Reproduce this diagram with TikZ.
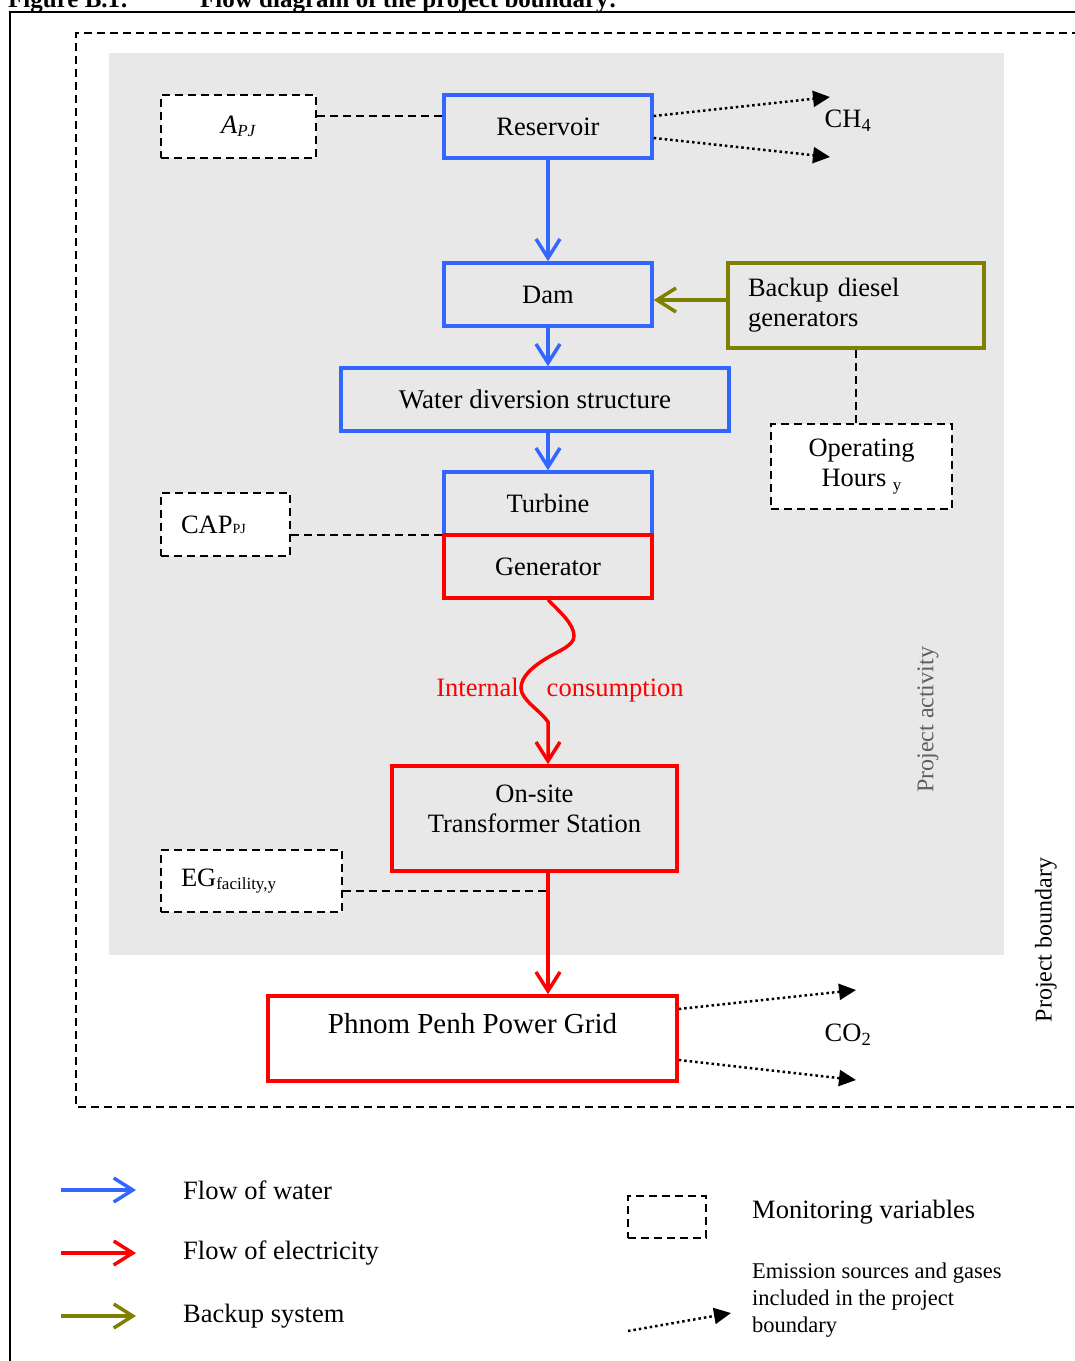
\documentclass[tikz,border=0pt]{standalone}
\usepackage{fontspec}
\setmainfont{Liberation Serif}
\usetikzlibrary{arrows.meta}

\definecolor{waterblue}{RGB}{51,102,255}
\definecolor{elecred}{RGB}{255,0,0}
\definecolor{backolive}{RGB}{128,128,0}
\definecolor{actgrey}{RGB}{232,232,232}
\definecolor{labgrey}{RGB}{95,95,95}

\tikzset{
  every node/.style={font=\fontsize{26.5}{30}\selectfont},
  stage/.style={draw, line width=3.5pt, minimum width=208pt, minimum height=63pt, inner sep=2pt},
  waterbox/.style={stage, draw=waterblue},
  elecbox/.style={stage, draw=elecred},
  backbox/.style={stage, draw=backolive},
  monbox/.style={draw=black, fill=white, line width=2pt, dash pattern=on 8pt off 5pt, inner sep=2pt},
  monline/.style={line width=2pt, dash pattern=on 8pt off 5pt},
  flowarrow/.style={line width=3.5pt, -{Straight Barb[length=19pt,width=24pt]}},
  emitarrow/.style={line width=2.5pt, dash pattern=on 2.5pt off 3pt, -{Triangle[length=17pt,width=16pt]}},
}

\begin{document}
\begin{tikzpicture}[x=1pt, y=-1pt]
\useasboundingbox (0,0) rectangle (1075,1361);
%Frame
\node[anchor=base west, inner sep=0pt, font=\bfseries\fontsize{25}{30}\selectfont] (ttl) at (8,7) {Figure B.1:};
\node[anchor=base west, inner sep=0pt, font=\bfseries\fontsize{25}{30}\selectfont] (ttltxt) at (200,7) {Flow diagram of the project boundary:};
\draw[line width=1.5pt] (1080,12) -- (10,12) -- (10,1370);
\draw[monline] (1080,33) -- (76,33) -- (76,1107) -- (1080,1107);
\fill[actgrey] (109,53) rectangle (1004,955);

%Boxes
\node[waterbox] (res) at (548,126.5) {Reservoir};
\node[waterbox] (dam) at (548,294.5) {Dam};
\node[waterbox, minimum width=388pt, font=\fontsize{27}{30}\selectfont] (wds) at (535,399.5) {Water diversion structure};
\node[waterbox] (tur) at (548,503.5) {Turbine};
\node[elecbox] (gen) at (548,566.5) {Generator};
\node[elecbox, minimum width=285pt, minimum height=105pt, align=center, text depth=20pt] (trf) at (534.5,818.5) {On-site\\Transformer Station};
\node[elecbox, minimum width=409pt, minimum height=85pt, text depth=30pt, font=\fontsize{29}{32}\selectfont] (grid) at (472.5,1038.5) {Phnom Penh Power Grid};
\node[backbox, minimum width=256pt, minimum height=85pt, text width=216pt, align=left] (bkp) at (856,305.5) {Backup diesel\\generators};

%Monitoring variables
\node[monbox, minimum width=155pt, minimum height=63pt] (apj) at (238.5,126.5) {\textit{A}\raisebox{-3pt}{\fontsize{17}{17}\selectfont\textit{PJ}}};
\node[monbox, minimum width=129pt, minimum height=63pt, text width=89pt, align=left] (cap) at (225.5,524.5) {CAP{\fontsize{14}{14}\selectfont PJ}};
\node[monbox, minimum width=181pt, minimum height=62pt, text width=141pt, align=left] (eg) at (251.5,881) {EG\raisebox{-2.5pt}{\fontsize{17}{17}\selectfont facility,y}};
\node[monbox, minimum width=181pt, minimum height=85pt, align=center] (opr) at (861.5,466.5) {Operating\\Hours \raisebox{-4pt}{\fontsize{17}{17}\selectfont y}};

\draw[monline] (apj.east |- 0,116) -- (res.west |- 0,116);
\draw[monline] (cap.east |- 0,535) -- (tur.west |- 0,535);
\draw[monline] (eg.east |- 0,891) -- (gen.south |- 0,891);
\draw[monline] (bkp.south) -- (bkp.south |- opr.north);

%Flows
\draw[flowarrow, waterblue] (res.south) -- (dam.north);
\draw[flowarrow, waterblue] (dam.south) -- (dam.south |- wds.north);
\draw[flowarrow, waterblue] (tur.north |- wds.south) -- (tur.north);
\draw[flowarrow, backolive] (bkp.west |- 0,300) -- (dam.east |- 0,300);
\draw[flowarrow, elecred] (gen.south) .. controls (560,612) and (574,624) .. (574,636)
  .. controls (574,646) and (558,651) .. (547,658)
  .. controls (532,667) and (521,677) .. (521,688)
  .. controls (521,700) and (540,710) .. (548,722) -- (gen.south |- trf.north);
\draw[flowarrow, elecred] (gen.south |- trf.south) -- (gen.south |- grid.north);
\node[text=elecred] (intc) at (560,690) {Internal\hspace{28pt}consumption};

%Emissions
\coordinate (ch4a) at (830,97);
\coordinate (ch4b) at (830,157);
\coordinate (co2a) at (856,990);
\coordinate (co2b) at (856,1080);
\draw[emitarrow] (res.east |- 0,116) -- (ch4a);
\draw[emitarrow] (res.east |- 0,138) -- (ch4b);
\draw[emitarrow] (grid.east |- 0,1009) -- (co2a);
\draw[emitarrow] (grid.east |- 0,1060) -- (co2b);
\node (ch4) at (848,121) {CH\textsubscript{4}};
\node (co2) at (848,1035) {CO\textsubscript{2}};

%Text
\node[rotate=90, text=labgrey, font=\fontsize{24}{28}\selectfont] (pact) at (928,720) {Project activity};
\node[rotate=90, font=\fontsize{24}{28}\selectfont] (pbnd) at (1046,940) {Project boundary};

%Legend
\coordinate (lw0) at (61,1190);  \coordinate (lw1) at (136,1190);
\coordinate (le0) at (61,1253);  \coordinate (le1) at (136,1253);
\coordinate (lb0) at (61,1316);  \coordinate (lb1) at (136,1316);
\coordinate (lx0) at (628,1331); \coordinate (lx1) at (731,1313);
\draw[flowarrow, waterblue] (lw0) -- (lw1);
\draw[flowarrow, elecred] (le0) -- (le1);
\draw[flowarrow, backolive] (lb0) -- (lb1);
\node[anchor=west, inner sep=0pt] (lwt) at (183,1190) {Flow of water};
\node[anchor=west, inner sep=0pt] (let) at (183,1253) {Flow of electricity};
\node[anchor=west, inner sep=0pt] (lbt) at (183,1316) {Backup system};
\node[monbox, fill=none, minimum width=78pt, minimum height=42pt] (lmon) at (667,1217) {};
\node[anchor=west, inner sep=0pt] (lmont) at (752,1212) {Monitoring variables};
\draw[emitarrow] (lx0) -- (lx1);
\node[anchor=west, inner sep=0pt, align=left, font=\fontsize{22.5}{27}\selectfont] (lemt) at (752,1300) {Emission sources and gases\\included in the project\\boundary};
\end{tikzpicture}
\end{document}
